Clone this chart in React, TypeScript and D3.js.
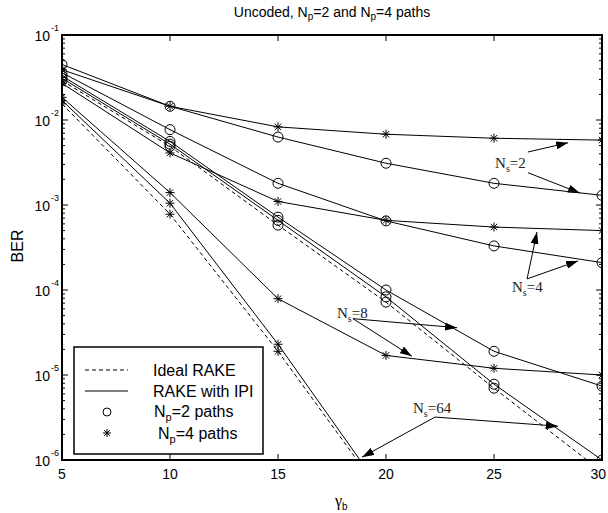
import React from 'react';
import * as d3 from 'd3';

// Eb/N0 points
const gammaB = [5, 10, 15, 20, 25, 30];

// Np = 2 paths (circles)
const np2Ns2 = [4.5e-2, 1.45e-2, 6.3e-3, 3.1e-3, 1.8e-3, 1.3e-3];
const np2Ns4 = [3.6e-2, 7.7e-3, 1.8e-3, 6.5e-4, 3.3e-4, 2.1e-4];
const np2Ns8 = [3.3e-2, 5.6e-3, 7.2e-4, 1.0e-4, 1.9e-5, 7.4e-6];
const np2Ns64 = [3.1e-2, 5.2e-3, 6.6e-4, 8.3e-5, 7.8e-6, 1.0e-6];
const np2Ideal = [2.9e-2, 4.9e-3, 5.8e-4, 7.2e-5, 7.0e-6, 7.3e-7];

// Np = 4 paths (stars)
const np4Ns2 = [3.9e-2, 1.45e-2, 8.3e-3, 6.8e-3, 6.1e-3, 5.8e-3];
const np4Ns4 = [2.7e-2, 4.1e-3, 1.1e-3, 6.6e-4, 5.5e-4, 5.0e-4];
const np4Ns8 = [1.85e-2, 1.4e-3, 7.9e-5, 1.7e-5, 1.2e-5, 1.0e-5];
const np4Ns64 = [1.7e-2, 1.05e-3, 2.3e-5, 3.7e-7];
const np4Ideal = [1.55e-2, 7.8e-4, 1.9e-5, 3.4e-7];

const yDecades = [-1, -2, -3, -4, -5, -6];

const series = [
  { name: 'np2Ns2', values: np2Ns2, mark: 'o', dashed: false },
  { name: 'np2Ns4', values: np2Ns4, mark: 'o', dashed: false },
  { name: 'np2Ns8', values: np2Ns8, mark: 'o', dashed: false },
  { name: 'np2Ns64', values: np2Ns64, mark: 'o', dashed: false },
  { name: 'np2Ideal', values: np2Ideal, mark: 'o', dashed: true },
  { name: 'np4Ns2', values: np4Ns2, mark: '*', dashed: false },
  { name: 'np4Ns4', values: np4Ns4, mark: '*', dashed: false },
  { name: 'np4Ns8', values: np4Ns8, mark: '*', dashed: false },
  { name: 'np4Ns64', values: np4Ns64, mark: '*', dashed: false },
  { name: 'np4Ideal', values: np4Ideal, mark: '*', dashed: true },
];

// annotations, in data units: label, text anchor, arrow start, arrow ends
const annotations = [
  { ns: '2', text: [25.05, 2.72e-3], from: [26.57, 4.2e-3], to: [28.43, 5.4e-3] },
  { ns: '2', text: null, from: [26.57, 2.4e-3], to: [28.98, 1.38e-3] },
  { ns: '4', text: [25.83, 9.5e-5], from: [26.53, 1.35e-4], to: [26.99, 4.8e-4] },
  { ns: '4', text: null, from: [26.53, 1.35e-4], to: [28.89, 2.2e-4] },
  { ns: '8', text: [17.73, 4.7e-5], from: [18.47, 4.6e-5], to: [23.29, 3.6e-5] },
  { ns: '8', text: null, from: [18.47, 4.6e-5], to: [21.2, 1.66e-5] },
  { ns: '64', text: [21.25, 3.6e-6], from: [22.27, 3.2e-6], to: [18.89, 1.08e-6] },
  { ns: '64', text: null, from: [22.27, 3.2e-6], to: [27.96, 2.5e-6] },
];

const W = 608;
const H = 513;
const margin = { left: 62, right: 6, top: 35, bottom: 53 };

const x = d3.scaleLinear().domain([5, 30]).range([margin.left, W - margin.right]);
const y = d3.scaleLog().domain([1e-6, 1e-1]).range([H - margin.bottom, margin.top]);

const sans = 'Arial, "Liberation Sans", sans-serif';
const serif = '"Times New Roman", "Liberation Serif", serif';

const Star = ({ cx, cy, r = 4.5 }: { cx: number; cy: number; r?: number }) => {
  const d = r * 0.72;
  return (
    <g stroke="#000" strokeWidth={1}>
      <line x1={cx} y1={cy - r} x2={cx} y2={cy + r} />
      <line x1={cx - r} y1={cy} x2={cx + r} y2={cy} />
      <line x1={cx - d} y1={cy - d} x2={cx + d} y2={cy + d} />
      <line x1={cx - d} y1={cy + d} x2={cx + d} y2={cy - d} />
    </g>
  );
};

const App = () => {
  const line = d3
    .line<number>()
    .x((_, i) => x(gammaB[i]))
    .y((d) => y(d));

  const x0 = x(5);
  const x1 = x(30);
  const yTop = y(1e-1);
  const yBot = y(1e-6);

  const minor: number[] = [];
  for (let e = -6; e < -1; e++) {
    for (let k = 2; k <= 9; k++) minor.push(k * Math.pow(10, e));
  }

  return (
    <svg width={W} height={H} style={{ position: 'absolute', left: 0, top: 0, background: '#fff' }}>
      <defs>
        <clipPath id="plot">
          <rect x={x0} y={yTop} width={x1 - x0} height={yBot - yTop} />
        </clipPath>
        <marker id="arrow" viewBox="0 0 12 8" refX="12" refY="4" markerWidth="12" markerHeight="8"
          markerUnits="userSpaceOnUse" orient="auto">
          <path d="M0,0 L12,4 L0,8 z" fill="#000" />
        </marker>
      </defs>

      {/* title */}
      <text x={332} y={17} textAnchor="middle" fontFamily={sans} fontSize={14}>
        Uncoded, N<tspan fontSize={10} dy={3}>p</tspan>
        <tspan dy={-3}>=2 and N</tspan>
        <tspan fontSize={10} dy={3}>p</tspan>
        <tspan dy={-3}>=4 paths</tspan>
      </text>

      {/* data */}
      <g clipPath="url(#plot)">
        {series.map((s) => (
          <path key={s.name} d={line(s.values) || ''} fill="none" stroke="#000" strokeWidth={1}
            strokeDasharray={s.dashed ? '4,3' : undefined} />
        ))}
        {series.map((s) =>
          s.values.map((v, i) =>
            s.mark === 'o' ? (
              <circle key={s.name + i} cx={x(gammaB[i])} cy={y(v)} r={5} fill="none" stroke="#000" strokeWidth={1} />
            ) : (
              <Star key={s.name + i} cx={x(gammaB[i])} cy={y(v)} />
            )
          )
        )}
      </g>

      {/* axes frame */}
      <rect x={x0} y={yTop} width={x1 - x0} height={yBot - yTop} fill="none" stroke="#000" strokeWidth={2} />

      {/* x ticks */}
      {gammaB.map((g, i) => (
        <g key={'xt' + g}>
          <line x1={x(g)} x2={x(g)} y1={yBot} y2={yBot - 6} stroke="#000" />
          <line x1={x(g)} x2={x(g)} y1={yTop} y2={yTop + 6} stroke="#000" />
          <text x={i === gammaB.length - 1 ? W - 2 : x(g)} y={479}
            textAnchor={i === gammaB.length - 1 ? 'end' : 'middle'} fontFamily={sans} fontSize={14}>{g}</text>
        </g>
      ))}

      {/* y ticks */}
      {yDecades.map((e) => (
        <g key={'yt' + e}>
          <line x1={x0} x2={x0 + 6} y1={y(Math.pow(10, e))} y2={y(Math.pow(10, e))} stroke="#000" />
          <line x1={x1} x2={x1 - 6} y1={y(Math.pow(10, e))} y2={y(Math.pow(10, e))} stroke="#000" />
          <text x={50} y={y(Math.pow(10, e)) + 6} textAnchor="end" fontFamily={sans} fontSize={14}>10</text>
          <text x={51} y={y(Math.pow(10, e)) - 4} fontFamily={sans} fontSize={9}>{e}</text>
        </g>
      ))}
      {minor.map((m) => (
        <g key={'ym' + m}>
          <line x1={x0} x2={x0 + 3} y1={y(m)} y2={y(m)} stroke="#000" />
          <line x1={x1} x2={x1 - 3} y1={y(m)} y2={y(m)} stroke="#000" />
        </g>
      ))}

      {/* axis labels */}
      <text transform="translate(23,246) rotate(-90)" textAnchor="middle" fontFamily={sans} fontSize={16}>BER</text>
      <text x={335} y={506} fontFamily={serif} fontSize={16}>
        γ<tspan fontFamily={sans} fontSize={10} dy={4}>b</tspan>
      </text>

      {/* annotations */}
      {annotations.map((a, i) => (
        <g key={'an' + i}>
          <line x1={x(a.from[0])} y1={y(a.from[1])} x2={x(a.to[0])} y2={y(a.to[1])} stroke="#000" strokeWidth={1}
            markerEnd="url(#arrow)" />
          {a.text && (
            <text x={x(a.text[0])} y={y(a.text[1])} fontFamily={serif} fontSize={15} fill="#222">
              N<tspan fontSize={10} dy={4}>s</tspan>
              <tspan dy={-4}>={a.ns}</tspan>
            </text>
          )}
        </g>
      ))}

      {/* legend */}
      <g fontFamily={sans} fontSize={16}>
        <rect x={74} y={347} width={189} height={107} fill="#fff" stroke="#000" strokeWidth={1.5} />
        <line x1={85} x2={128} y1={370} y2={370} stroke="#000" strokeDasharray="4,3" />
        <text x={153} y={376}>Ideal RAKE</text>
        <line x1={85} x2={128} y1={391} y2={391} stroke="#000" />
        <text x={153} y={397}>RAKE with IPI</text>
        <circle cx={107} cy={412} r={4} fill="none" stroke="#000" />
        <text x={154} y={417}>
          N<tspan fontSize={11} dy={4}>p</tspan>
          <tspan dy={-4}>=2 paths</tspan>
        </text>
        <Star cx={107} cy={433} r={4} />
        <text x={158} y={439}>
          N<tspan fontSize={11} dy={4}>p</tspan>
          <tspan dy={-4}>=4 paths</tspan>
        </text>
      </g>
    </svg>
  );
};

export default App;
